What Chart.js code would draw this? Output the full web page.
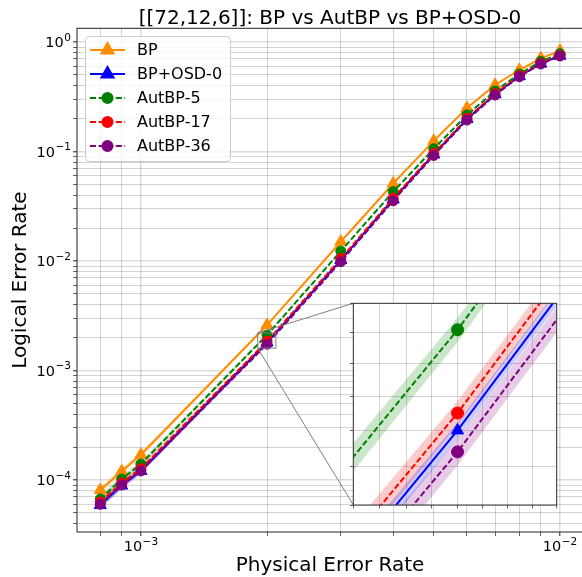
<!DOCTYPE html>
<html>
<head>
<meta charset="utf-8">
<script src="https://cdn.jsdelivr.net/npm/chart.js@4.4.1/dist/chart.umd.min.js"></script>
<style>
html,body{margin:0;padding:0;background:#fff;overflow:hidden;width:582px;height:577px;}
#wrap{position:relative;width:582px;height:577px;overflow:hidden;}
#main{position:absolute;left:0;top:0;}
#inset{position:absolute;left:343px;top:295px;}
</style>
</head>
<body>
<div id="wrap">
<canvas id="main" width="600" height="577"></canvas>
<canvas id="inset" width="222" height="220"></canvas>
</div>
<script>
// ---------------- data ----------------
const physicalErrorRate = [0.0008, 0.0009, 0.001, 0.002, 0.003, 0.004, 0.005, 0.006, 0.007, 0.008, 0.009, 0.01];
const bpLER     = [8.1e-5, 1.2e-4, 1.7e-4, 2.6e-3, 1.5e-2, 5.1e-2, 0.125, 0.25, 0.405, 0.555, 0.71, 0.83];
const osdLER    = [5.9e-5, 8.9e-5, 1.21e-4, 1.80e-3, 1.02e-2, 3.65e-2, 0.094, 0.198, 0.333, 0.487, 0.635, 0.75];
const aut5LER   = [6.7e-5, 1.02e-4, 1.4e-4, 2.11e-3, 1.23e-2, 4.3e-2, 0.106, 0.216, 0.357, 0.51, 0.665, 0.78];
const aut17LER  = [6.3e-5, 9.4e-5, 1.27e-4, 1.85e-3, 1.05e-2, 3.75e-2, 0.096, 0.201, 0.338, 0.492, 0.64, 0.755];
const aut36LER  = [6.0e-5, 9.0e-5, 1.21e-4, 1.74e-3, 9.85e-3, 3.55e-2, 0.092, 0.194, 0.328, 0.482, 0.63, 0.745];
// relative half-width of the shaded confidence bands
const bpCI    = [0.08, 0.07, 0.06, 0.018, 0.010, 0.006, 0.004, 0.003, 0.003, 0.002, 0.002, 0.002];
const osdCI   = [0.08, 0.07, 0.06, 0.013, 0.009, 0.006, 0.004, 0.003, 0.003, 0.002, 0.002, 0.002];
const aut5CI  = [0.08, 0.07, 0.06, 0.019, 0.010, 0.006, 0.004, 0.003, 0.003, 0.002, 0.002, 0.002];
const aut17CI = [0.08, 0.07, 0.06, 0.019, 0.010, 0.006, 0.004, 0.003, 0.003, 0.002, 0.002, 0.002];
const aut36CI = [0.08, 0.07, 0.06, 0.021, 0.010, 0.006, 0.004, 0.003, 0.003, 0.002, 0.002, 0.002];
const seriesNames = ['BP', 'BP+OSD-0', 'AutBP-5', 'AutBP-17', 'AutBP-36'];
const xMajorTicks = [0.001, 0.01];
const xTickExponents = ['\u22123', '\u22122'];
const yMajorTicks = [1, 0.1, 0.01, 0.001, 0.0001];
const yTickExponents = ['0', '\u22121', '\u22122', '\u22123', '\u22124'];
const tickBase = '10';
const xRange = [7.04e-4, 0.01135];
const yRange = [3.35e-5, 1.334];
const insetXRange = [0.0019, 0.0021];
const insetYRange = [0.0016, 0.0022];
const insetXTicks = [0.0019, 0.001925, 0.00195, 0.001975, 0.002, 0.002025, 0.00205, 0.002075, 0.0021];
const insetYTicks = [0.0016, 0.0017, 0.0018, 0.0019, 0.0020, 0.0021, 0.0022];
const titleText = '[[72,12,6]]: BP vs AutBP vs BP+OSD-0';
const xTitle = 'Physical Error Rate';
const yTitle = 'Logical Error Rate';

// ---------------- styles ----------------
const FONT = '"DejaVu Sans", "Liberation Sans", sans-serif';
const seriesStyle = [
  {values: bpLER,    ci: bpCI,    color: '#ff8c00', rgb: '255,140,0', dash: [],         style: 'triangle', order: 5, inset: false},
  {values: osdLER,   ci: osdCI,   color: '#0000ff', rgb: '0,0,255',   dash: [],         style: 'triangle', order: 4, inset: true},
  {values: aut5LER,  ci: aut5CI,  color: '#008000', rgb: '0,128,0',   dash: [6, 2.6],   style: 'circle',   order: 3, inset: true},
  {values: aut17LER, ci: aut17CI, color: '#ff0000', rgb: '255,0,0',   dash: [6, 2.6],   style: 'circle',   order: 2, inset: true},
  {values: aut36LER, ci: aut36CI, color: '#800080', rgb: '128,0,128', dash: [6, 2.6],   style: 'circle',   order: 1, inset: true}
];
const LINE_W = 2;
const MAJOR_GRID = 'rgba(0,0,0,0.13)';
const MINOR_GRID = 'rgba(0,0,0,0.22)';

function isPow10(v) { const l = Math.log10(v); return Math.abs(l - Math.round(l)) < 1e-6; }
function logGrid(min, max) {
  const out = [];
  for (let n = Math.floor(Math.log10(min)); n <= Math.ceil(Math.log10(max)); n++) {
    for (let k = 1; k <= 9; k++) {
      const v = parseFloat((k * Math.pow(10, n)).toPrecision(6));
      if (v >= min * (1 - 1e-9) && v <= max * (1 + 1e-9)) out.push(v);
    }
  }
  return out;
}
function pts(vals) { return physicalErrorRate.map((x, i) => ({x: x, y: vals[i]})); }

function buildDatasets(isInset) {
  const ds = [];
  seriesStyle.forEach((s, idx) => {
    if (isInset && !s.inset) return;
    const lo = s.values.map((v, i) => v * (1 - s.ci[i]));
    const hi = s.values.map((v, i) => v * (1 + s.ci[i]));
    ds.push({label: '_lo', data: pts(lo), borderWidth: 0, pointRadius: 0, fill: false, order: 20 + idx, borderColor: 'rgba(0,0,0,0)'});
    ds.push({label: '_hi', data: pts(hi), borderWidth: 0, pointRadius: 0, fill: '-1', order: 20 + idx,
      borderColor: 'rgba(0,0,0,0)', backgroundColor: 'rgba(' + s.rgb + ',0.2)'});
    const r = s.style === 'triangle' ? 7 : (isInset ? 6 : 5);
    ds.push({label: seriesNames[idx], data: pts(s.values), borderColor: s.color, backgroundColor: s.color,
      borderWidth: LINE_W, borderDash: s.dash, pointStyle: s.style, pointRadius: r, pointBorderWidth: 1,
      pointBorderColor: s.color, pointBackgroundColor: s.color, fill: false, tension: 0, order: s.order,
      _legend: true});
  });
  return ds;
}

function gridOpts() {
  return {
    drawTicks: true, tickLength: 4,
    color: c => (c.tick && isPow10(c.tick.value)) ? MAJOR_GRID : MINOR_GRID,
    lineWidth: c => (c.tick && isPow10(c.tick.value)) ? 1.6 : 0.8,
    tickColor: '#222',
    tickWidth: c => (c.tick && isPow10(c.tick.value)) ? 1 : 0.7
  };
}

// ---------------- inset chart ----------------
const INSET = {left: 353.3, top: 303.3, right: 556.7, bottom: 505, canvasLeft: 343, canvasTop: 295};
const insetPlugin = {
  id: 'insetDecor',
  beforeDraw(chart) {
    const a = chart.chartArea, ctx = chart.ctx;
    ctx.save(); ctx.fillStyle = '#fff'; ctx.fillRect(a.left, a.top, a.right - a.left, a.bottom - a.top); ctx.restore();
  },
  afterDatasetsDraw(chart) {
    const a = chart.chartArea, ctx = chart.ctx;
    ctx.save(); ctx.strokeStyle = '#333'; ctx.lineWidth = 1;
    ctx.strokeRect(a.left, a.top, a.right - a.left, a.bottom - a.top); ctx.restore();
  }
};
const insetChart = new Chart(document.getElementById('inset'), {
  type: 'line',
  data: {datasets: buildDatasets(true)},
  options: {
    responsive: false, animation: false, devicePixelRatio: 1,
    layout: {padding: {left: 0, top: INSET.top - INSET.canvasTop, right: 222 - (INSET.right - INSET.canvasLeft), bottom: 0}},
    plugins: {legend: {display: false}, tooltip: {enabled: false}},
    scales: {
      x: {type: 'logarithmic', min: insetXRange[0], max: insetXRange[1],
        afterBuildTicks: s => { s.ticks = insetXTicks.map(v => ({value: v})); },
        afterFit: s => { s.height = 220 - (INSET.bottom - INSET.canvasTop); },
        ticks: {display: false, autoSkip: false},
        grid: {drawTicks: true, tickLength: 3.5, color: MINOR_GRID, lineWidth: 0.8, tickColor: '#222', tickWidth: 0.7},
        border: {display: false}},
      y: {type: 'logarithmic', min: insetYRange[0], max: insetYRange[1],
        afterBuildTicks: s => { s.ticks = insetYTicks.map(v => ({value: v})); },
        afterFit: s => { s.width = INSET.left - INSET.canvasLeft; },
        ticks: {display: false, autoSkip: false},
        grid: {drawTicks: true, tickLength: 3.5, color: MINOR_GRID, lineWidth: 0.8, tickColor: '#222', tickWidth: 0.7},
        border: {display: false}}
    }
  },
  plugins: [insetPlugin]
});

// ---------------- main chart ----------------
const PLOT = {left: 77, top: 28.3, right: 583, bottom: 532, canvasW: 600, canvasH: 577};
const LEGEND = {x: 85.5, y: 36.5, w: 145, h: 125, row0: 50, rowStep: 24, lineX0: 90, lineX1: 125, textX: 137};
const TICKFONT = {base: 14.5, exp: 10.5, raise: 6.5};

function drawPowerLabel(ctx, exp, x, baseline, align) {
  ctx.font = TICKFONT.base + 'px ' + FONT;
  const wb = ctx.measureText(tickBase).width;
  ctx.font = TICKFONT.exp + 'px ' + FONT;
  const we = ctx.measureText(exp).width;
  const total = wb + we + 0.5;
  let x0 = align === 'right' ? x - total : x - total / 2;
  ctx.textAlign = 'left'; ctx.textBaseline = 'alphabetic';
  ctx.font = TICKFONT.base + 'px ' + FONT;
  ctx.fillText(tickBase, x0, baseline);
  ctx.font = TICKFONT.exp + 'px ' + FONT;
  ctx.fillText(exp, x0 + wb + 0.5, baseline - TICKFONT.raise);
}

const mainPlugin = {
  id: 'mainDecor',
  beforeDraw(chart) {
    const ctx = chart.ctx;
    ctx.save(); ctx.fillStyle = '#fff'; ctx.fillRect(0, 0, chart.width, chart.height); ctx.restore();
  },
  afterDatasetsDraw(chart) {
    const ctx = chart.ctx, a = chart.chartArea, xs = chart.scales.x, ys = chart.scales.y;
    // inset indicator rectangle and connectors
    const rx0 = xs.getPixelForValue(insetXRange[0]), rx1 = xs.getPixelForValue(insetXRange[1]);
    const ry0 = ys.getPixelForValue(insetYRange[1]), ry1 = ys.getPixelForValue(insetYRange[0]);
    ctx.save();
    ctx.strokeStyle = '#808080'; ctx.lineWidth = 1;
    ctx.strokeRect(rx0, ry0, rx1 - rx0, ry1 - ry0);
    ctx.beginPath();
    ctx.moveTo(rx0, ry0); ctx.lineTo(INSET.left, INSET.top);
    ctx.moveTo(rx0, ry1); ctx.lineTo(INSET.left, INSET.bottom);
    ctx.stroke();
    ctx.restore();
    // spines
    ctx.save(); ctx.strokeStyle = '#222'; ctx.lineWidth = 1;
    ctx.strokeRect(a.left, a.top, a.right - a.left, a.bottom - a.top); ctx.restore();
    // legend
    ctx.save();
    const L = LEGEND;
    ctx.beginPath();
    if (ctx.roundRect) ctx.roundRect(L.x, L.y, L.w, L.h, 4); else ctx.rect(L.x, L.y, L.w, L.h);
    ctx.fillStyle = 'rgba(255,255,255,0.8)'; ctx.fill();
    ctx.strokeStyle = '#cccccc'; ctx.lineWidth = 1; ctx.stroke();
    const items = chart.data.datasets.filter(d => d._legend);
    items.forEach((d, i) => {
      const y = L.row0 + i * L.rowStep;
      ctx.save();
      ctx.strokeStyle = d.borderColor; ctx.lineWidth = LINE_W; ctx.setLineDash(d.borderDash || []);
      ctx.beginPath(); ctx.moveTo(L.lineX0, y); ctx.lineTo(L.lineX1, y); ctx.stroke();
      ctx.setLineDash([]);
      ctx.fillStyle = d.borderColor; ctx.strokeStyle = d.borderColor;
      Chart.helpers.drawPoint(ctx, {pointStyle: d.pointStyle, radius: d.pointRadius, rotation: 0, borderWidth: 1}, (L.lineX0 + L.lineX1) / 2, y);
      ctx.restore();
      ctx.fillStyle = '#000'; ctx.font = '16px ' + FONT; ctx.textAlign = 'left'; ctx.textBaseline = 'middle';
      ctx.fillText(d.label, L.textX, y + 1);
    });
    ctx.restore();
  },
  afterDraw(chart) {
    const ctx = chart.ctx, a = chart.chartArea, xs = chart.scales.x, ys = chart.scales.y;
    const cx = (a.left + a.right) / 2, cy = (a.top + a.bottom) / 2;
    ctx.save();
    ctx.fillStyle = '#000';
    // tick labels
    xMajorTicks.forEach((v, i) => drawPowerLabel(ctx, xTickExponents[i], xs.getPixelForValue(v), 551, 'center'));
    yMajorTicks.forEach((v, i) => drawPowerLabel(ctx, yTickExponents[i], 71, ys.getPixelForValue(v) + 5.3, 'right'));
    // titles
    ctx.textAlign = 'center'; ctx.textBaseline = 'alphabetic';
    ctx.font = '20px ' + FONT;
    ctx.fillText(titleText, cx, 24);
    ctx.fillText(xTitle, cx, 571);
    ctx.translate(26, cy); ctx.rotate(-Math.PI / 2);
    ctx.fillText(yTitle, 0, 0);
    ctx.restore();
  }
};

const mainChart = new Chart(document.getElementById('main'), {
  type: 'line',
  data: {datasets: buildDatasets(false)},
  options: {
    responsive: false, animation: false, devicePixelRatio: 1,
    layout: {padding: {left: 0, top: PLOT.top, right: PLOT.canvasW - PLOT.right, bottom: 0}},
    plugins: {legend: {display: false}, tooltip: {enabled: false}, title: {display: false}},
    scales: {
      x: {type: 'logarithmic', min: xRange[0], max: xRange[1], position: 'bottom',
        afterBuildTicks: s => { s.ticks = logGrid(s.min, s.max).map(v => ({value: v})); },
        afterFit: s => { s.height = PLOT.canvasH - PLOT.bottom; },
        ticks: {display: false, autoSkip: false},
        grid: gridOpts(), border: {display: false}},
      y: {type: 'logarithmic', min: yRange[0], max: yRange[1], position: 'left',
        afterBuildTicks: s => { s.ticks = logGrid(s.min, s.max).map(v => ({value: v})); },
        afterFit: s => { s.width = PLOT.left; },
        ticks: {display: false, autoSkip: false},
        grid: gridOpts(), border: {display: false}}
    }
  },
  plugins: [mainPlugin]
});
</script>
</body>
</html>
